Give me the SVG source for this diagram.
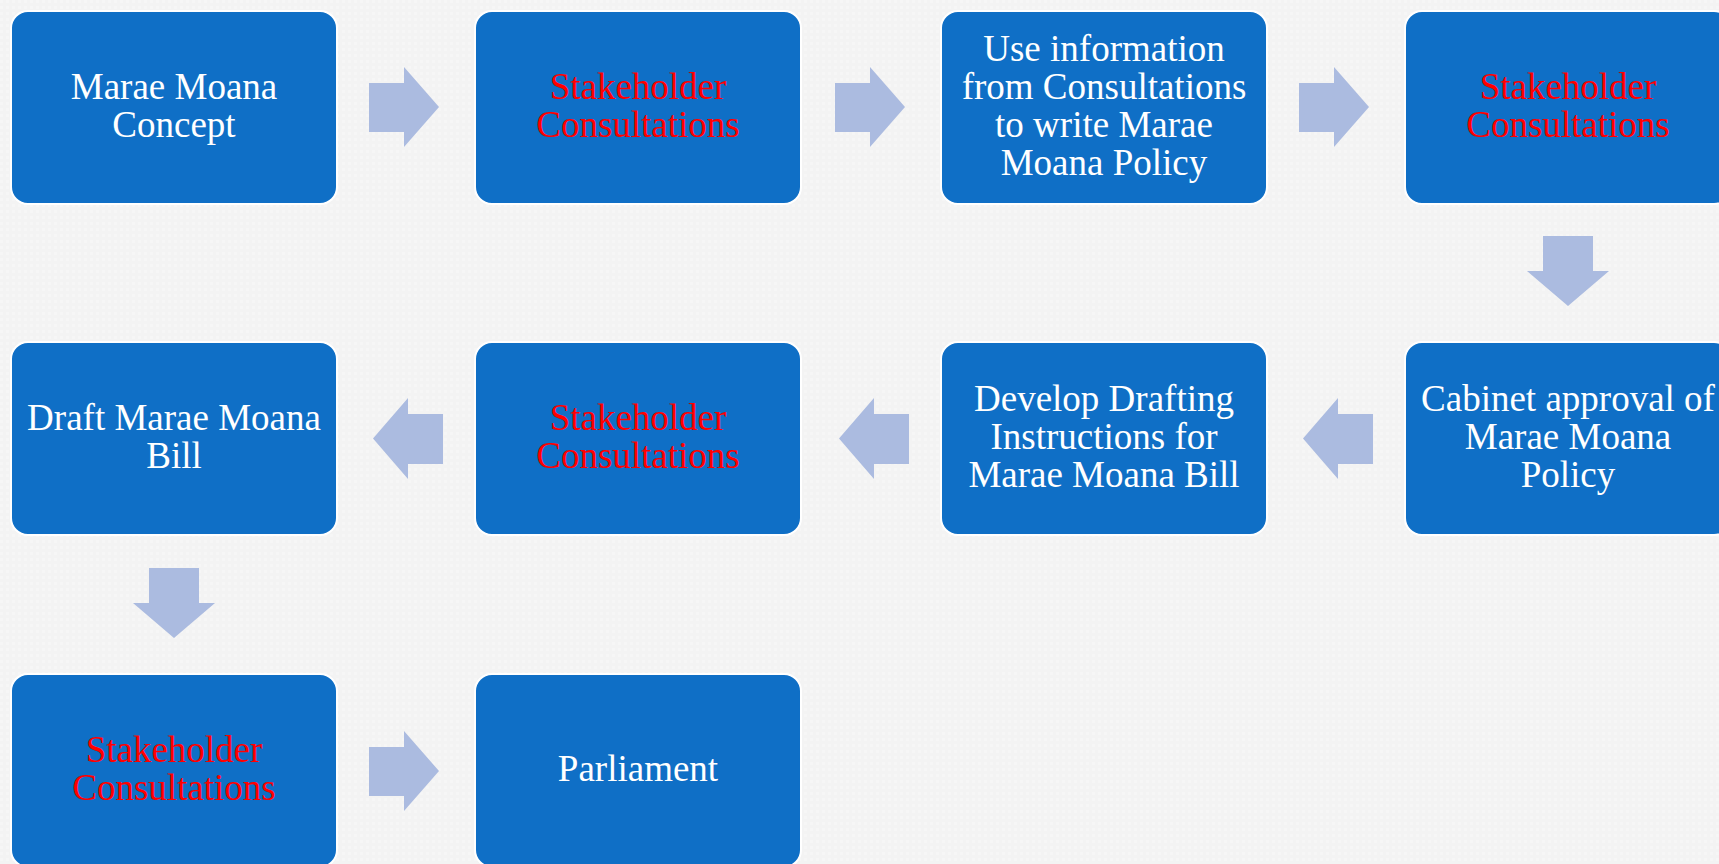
<svg xmlns="http://www.w3.org/2000/svg" width="1719" height="864" viewBox="0 0 1719 864">
<defs>
<style>
.box{fill:#0F6FC6;stroke:#FFFFFF;stroke-width:2}
.t{font-family:"Liberation Serif","Times New Roman",serif;font-size:37px;fill:#FFFFFF;text-anchor:middle}
.r{fill:#FF0000}
.arr{fill:#ABBBE0}
</style>
<pattern id="bgp" width="6" height="6" patternUnits="userSpaceOnUse">
<rect width="6" height="6" fill="#F3F3F3"/>
<rect width="3" height="3" fill="#F6F6F6"/>
</pattern>
</defs>
<rect width="1719" height="864" fill="url(#bgp)"/>
<g id="connectors">
<path class="arr" d="M369,83 H404 V67 L439,107 L404,147 V132 H369 Z"/>
<path class="arr" d="M835,83 H870 V67 L905,107 L870,147 V132 H835 Z"/>
<path class="arr" d="M1299,83 H1334 V67 L1369,107 L1334,147 V132 H1299 Z"/>
<path class="arr" d="M1543,236 H1593 V271 H1609 L1568,306 L1527,271 H1543 Z"/>
<path class="arr" d="M1373,414 H1338 V398 L1303,438.5 L1338,479 V464 H1373 Z"/>
<path class="arr" d="M909,414 H874 V398 L839,438.5 L874,479 V464 H909 Z"/>
<path class="arr" d="M443,414 H408 V398 L373,438.5 L408,479 V464 H443 Z"/>
<path class="arr" d="M149,568 H199 V603 H215 L174,638 L133,603 H149 Z"/>
<path class="arr" d="M369,747 H404 V731 L439,771 L404,811 V796 H369 Z"/>
</g>
<g id="n1"><rect class="box" x="11" y="11" width="326" height="193" rx="17"/>
<text class="t" x="174" y="98.5">Marae Moana</text><text class="t" x="174" y="136.5">Concept</text></g>
<g id="n2"><rect class="box" x="475" y="11" width="326" height="193" rx="17"/>
<text class="t r" x="638" y="98.5">Stakeholder</text><text class="t r" x="638" y="136.5">Consultations</text></g>
<g id="n3"><rect class="box" x="941" y="11" width="326" height="193" rx="17"/>
<text class="t" x="1104" y="60.5">Use information</text><text class="t" x="1104" y="98.5">from Consultations</text><text class="t" x="1104" y="136.5">to write Marae</text><text class="t" x="1104" y="174.5">Moana Policy</text></g>
<g id="n4"><rect class="box" x="1405" y="11" width="326" height="193" rx="17"/>
<text class="t r" x="1568" y="98.5">Stakeholder</text><text class="t r" x="1568" y="136.5">Consultations</text></g>
<g id="n5"><rect class="box" x="1405" y="342" width="326" height="193" rx="17"/>
<text class="t" x="1568" y="411">Cabinet approval of</text><text class="t" x="1568" y="449">Marae Moana</text><text class="t" x="1568" y="487">Policy</text></g>
<g id="n6"><rect class="box" x="941" y="342" width="326" height="193" rx="17"/>
<text class="t" x="1104" y="411">Develop Drafting</text><text class="t" x="1104" y="449">Instructions for</text><text class="t" x="1104" y="487">Marae Moana Bill</text></g>
<g id="n7"><rect class="box" x="475" y="342" width="326" height="193" rx="17"/>
<text class="t r" x="638" y="430">Stakeholder</text><text class="t r" x="638" y="468">Consultations</text></g>
<g id="n8"><rect class="box" x="11" y="342" width="326" height="193" rx="17"/>
<text class="t" x="174" y="430">Draft Marae Moana</text><text class="t" x="174" y="468">Bill</text></g>
<g id="n9"><rect class="box" x="11" y="674" width="326" height="193" rx="17"/>
<text class="t r" x="174" y="762">Stakeholder</text><text class="t r" x="174" y="800">Consultations</text></g>
<g id="n10"><rect class="box" x="475" y="674" width="326" height="193" rx="17"/>
<text class="t" x="638" y="781">Parliament</text></g>
</svg>
